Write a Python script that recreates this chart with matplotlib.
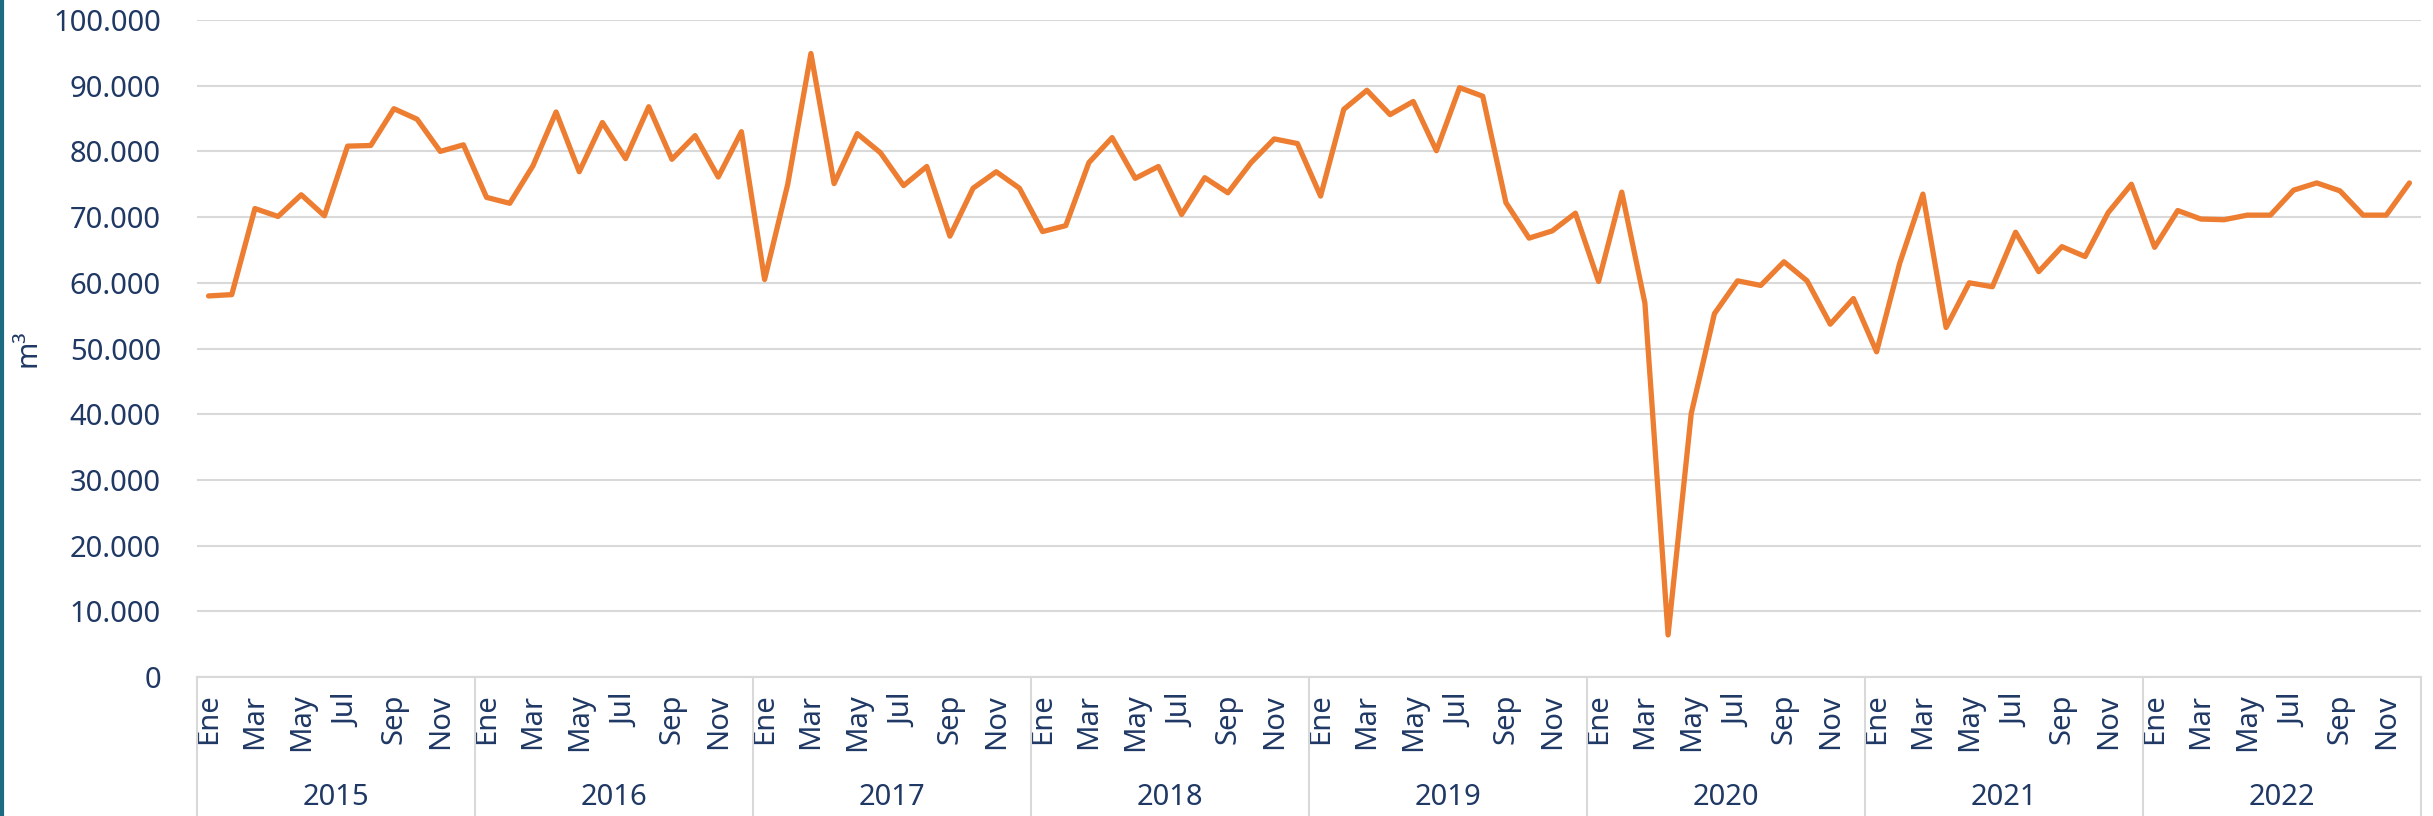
import matplotlib
matplotlib.use("Agg")
import matplotlib.pyplot as plt
import matplotlib.transforms as mtransforms
from matplotlib.lines import Line2D
from matplotlib.ticker import FuncFormatter, MultipleLocator

plt.rcParams['font.family'] = ['Noto Sans', 'DejaVu Sans']

TEXT_COLOR = '#1F3864'
GRID_COLOR = '#D9D9D9'
LINE_COLOR = '#ED7D31'

years = ['2015', '2016', '2017', '2018', '2019', '2020', '2021', '2022']
months = ['Ene', 'Feb', 'Mar', 'Abr', 'May', 'Jun', 'Jul', 'Ago', 'Sep', 'Oct', 'Nov', 'Dic']

# m3 per month
v2015 = [58000, 58200, 71300, 70100, 73400, 70200, 80800, 80900, 86500, 84900, 80000, 81000]
v2016 = [73000, 72100, 77800, 86000, 76900, 84400, 78900, 86800, 78800, 82400, 76100, 83000]
v2017 = [60500, 75000, 94900, 75100, 82700, 79800, 74800, 77700, 67100, 74400, 76900, 74400]
v2018 = [67800, 68700, 78300, 82100, 75900, 77700, 70400, 76000, 73700, 78300, 81900, 81200]
v2019 = [73200, 86400, 89300, 85600, 87600, 80100, 89700, 88400, 72200, 66800, 67900, 70600]
v2020 = [60200, 73800, 56900, 6400, 40100, 55300, 60300, 59600, 63200, 60300, 53700, 57600]
v2021 = [49500, 63000, 73500, 53200, 60000, 59400, 67700, 61700, 65500, 64000, 70700, 75000]
v2022 = [65400, 71000, 69700, 69600, 70300, 70300, 74100, 75200, 74000, 70300, 70300, 75200]

values = v2015 + v2016 + v2017 + v2018 + v2019 + v2020 + v2021 + v2022
x = list(range(len(values)))

W, H = 2433, 816
fig = plt.figure(figsize=(W / 100, H / 100), dpi=100)
left, right, top, bottom = 197, 2421, 20, 677
ax = fig.add_axes([left / W, 1 - bottom / H, (right - left) / W, (bottom - top) / H])

ax.plot(x, values, color=LINE_COLOR, linewidth=3.8, solid_joinstyle='round', solid_capstyle='round', zorder=3)

ax.set_xlim(-0.5, len(values) - 0.5)
ax.set_ylim(0, 100000)
ax.yaxis.set_major_locator(MultipleLocator(10000))
ax.yaxis.set_major_formatter(FuncFormatter(lambda v, p: f"{int(v):,}".replace(',', '.')))
ax.grid(axis='y', color=GRID_COLOR, linewidth=1.5, zorder=0)
ax.set_axisbelow(True)

for s in ['top', 'right', 'left']:
  ax.spines[s].set_visible(False)
ax.spines['bottom'].set_color(GRID_COLOR)
ax.spines['bottom'].set_linewidth(1.5)

ax.tick_params(axis='y', length=0, pad=26, labelsize=21, labelcolor=TEXT_COLOR)
ax.set_xticks(x[::2])
ax.set_xticklabels([months[i % 12] for i in x[::2]], rotation=90)
ax.tick_params(axis='x', length=0, pad=12, labelsize=21, labelcolor=TEXT_COLOR)

# axis title sits at the very left of the figure
fig.text(28 / W, 1 - 348 / H, 'm³', rotation=90, ha='center', va='center',
         fontsize=21, color=TEXT_COLOR)

# year row + separators under the axis
trans = mtransforms.blended_transform_factory(ax.transData, ax.transAxes)
for k, yr in enumerate(years):
  ax.text(k * 12 + 5.5, -0.183, yr, transform=trans, ha='center', va='center',
          fontsize=21, color=TEXT_COLOR)
for k in range(len(years) + 1):
  ax.plot([k * 12 - 0.5, k * 12 - 0.5], [0, -0.3], transform=trans, color=GRID_COLOR,
          linewidth=1.5, clip_on=False)

# teal strip at the left edge
fig.add_artist(Line2D([0.0008, 0.0008], [0, 1], color='#1D6B80', linewidth=3))

fig.savefig('out.png', dpi=100)
